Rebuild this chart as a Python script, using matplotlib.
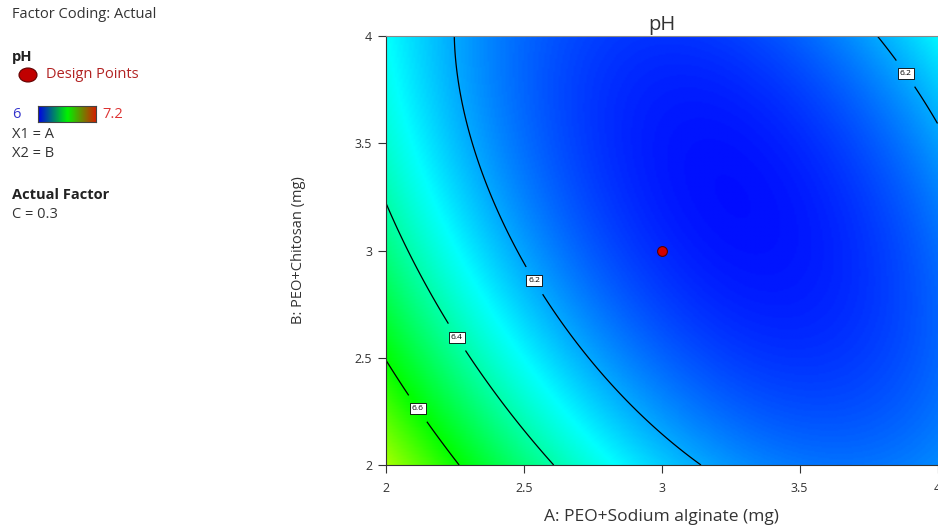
import numpy as np
import matplotlib
matplotlib.use("Agg")
import matplotlib.pyplot as plt
from matplotlib.colors import LinearSegmentedColormap

plt.rcParams['font.family'] = ['Open Sans', 'DejaVu Sans']

# quadratic model in coded units x=(A-3), y=(B-3)
# order: const, x, y, xy, x^2, y^2
coef = [6.05, -0.161, -0.09, 0.154, 0.238, 0.10]
a_range = [2, 4]
b_range = [2, 4]
levels = [6.2, 6.4, 6.6]
label_pos = [(2.523, 2.848), (3.902, 3.841), (2.258, 2.597), (2.123, 2.270)]
design_a = [3]
design_b = [3]
ticks = [2, 2.5, 3, 3.5, 4]
tick_labels = ['2', '2.5', '3', '3.5', '4']
ph_min, ph_max = 6.0, 7.2

def model(a, b):
    x = a - 3
    y = b - 3
    return (coef[0] + coef[1]*x + coef[2]*y + coef[3]*x*y
            + coef[4]*x**2 + coef[5]*y**2)

A, B = np.meshgrid(np.linspace(*a_range, 300), np.linspace(*b_range, 300))
Z = model(A, B)

surf_cmap = LinearSegmentedColormap.from_list(
    'de', [(0, (0, 0, 1)), (0.25, (0, 1, 1)), (0.5, (0, 1, 0)),
           (0.75, (1, 1, 0)), (1, (1, 0, 0))])

fig = plt.figure(figsize=(9.38, 5.31), dpi=100)
ax = fig.add_axes([386/938, 1-465/531, 551.5/938, 429/531])
ax.imshow(Z, origin='lower', extent=[*a_range, *b_range], aspect='auto',
          cmap=surf_cmap, vmin=ph_min, vmax=ph_max, interpolation='bilinear')
cs = ax.contour(A, B, Z, levels=levels, colors='black', linewidths=0.9)
lbls = ax.clabel(cs, fmt='%.1f', fontsize=6, manual=label_pos, inline=True, inline_spacing=10)
for t in lbls:
    t.set_rotation(0)
    t.set_bbox(dict(boxstyle='square,pad=0.25', fc='white', ec='black', lw=0.6))
ax.scatter(design_a, design_b, s=50, c='#d40000', edgecolors='#5a0000', linewidths=0.8, zorder=5)

ax.set_xlim(*a_range)
ax.set_ylim(*b_range)
ax.set_xticks(ticks)
ax.set_xticklabels(tick_labels)
ax.set_yticks(ticks)
ax.set_yticklabels(tick_labels)
ax.tick_params(direction='out', length=6, width=0.8, color='#333333', labelsize=9, labelcolor='#333333')
ax.tick_params(axis='x', pad=6)
ax.tick_params(axis='y', pad=4)
ax.spines['right'].set_visible(False)
ax.spines['top'].set_color('#888888')
ax.spines['left'].set_color('#333333')
ax.spines['bottom'].set_color('#333333')
ax.set_xlabel('A: PEO+Sodium alginate (mg)', fontsize=12.5, color='#333333', labelpad=10)
ax.set_ylabel('B: PEO+Chitosan (mg)', fontsize=10.5, color='#333333', labelpad=35)
ax.set_title('pH', fontsize=14.5, color='#333333', pad=4)

# left info panel
fs = 10.5
fig.text(12/938, 1-15/531, 'Factor Coding: Actual', fontsize=fs, color='#333333', va='center')
fig.text(12/938, 1-57/531, 'pH', fontsize=fs, fontweight='bold', color='#222222', va='center')
fig.text(46/938, 1-75/531, 'Design Points', fontsize=fs, color='#b22222', va='center')
fig.patches.append(matplotlib.patches.Ellipse((28/938, 1-75/531), 18/938, 14/531,
                   transform=fig.transFigure, fc='#c00000', ec='#600000', lw=0.8))
fig.text(12/938, 1-114/531, '6', fontsize=fs, color='#3333cc', va='center')
fig.text(102/938, 1-114/531, '7.2', fontsize=fs, color='#dd3333', va='center')
cax = fig.add_axes([38/938, 1-122/531, 58/938, 16/531])
bar_cmap = LinearSegmentedColormap.from_list('bar', [(0, 0, 0.9), (0, 0.95, 0), (0.85, 0.1, 0)])
cax.imshow(np.linspace(0, 1, 100)[None, :], aspect='auto', cmap=bar_cmap)
cax.set_xticks([])
cax.set_yticks([])
for s in cax.spines.values():
    s.set_color('#444444')
    s.set_linewidth(0.8)
fig.text(12/938, 1-134/531, 'X1 = A', fontsize=fs, color='#333333', va='center')
fig.text(12/938, 1-154/531, 'X2 = B', fontsize=fs, color='#333333', va='center')
fig.text(12/938, 1-195/531, 'Actual Factor', fontsize=fs, fontweight='bold', color='#222222', va='center')
fig.text(12/938, 1-214/531, 'C = 0.3', fontsize=fs, color='#333333', va='center')

fig.savefig('out.png', dpi=100)
